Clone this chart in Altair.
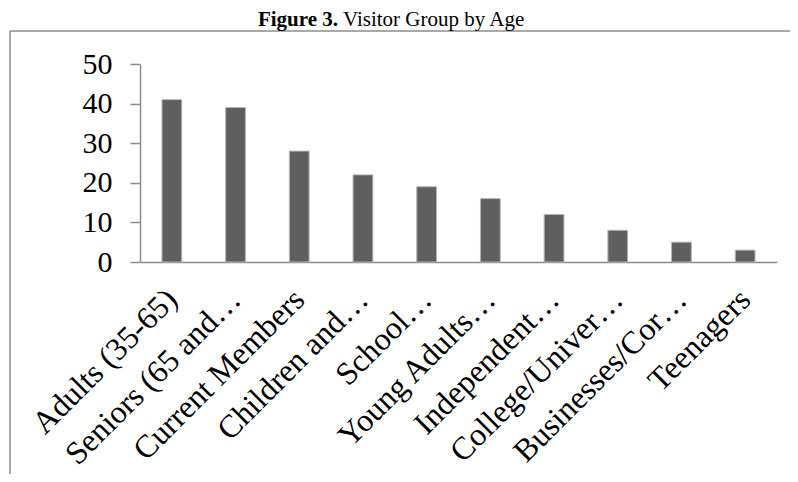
import altair as alt
import pandas as pd

categories = ["Adults (35-65)", "Seniors (65 and…", "Current Members", "Children and…",
              "School…", "Young Adults…", "Independent…", "College/Univer…",
              "Businesses/Cor…", "Teenagers"]
values = [41, 39, 28, 22, 19, 16, 12, 8, 5, 3]
y_ticks = [0, 10, 20, 30, 40, 50]
title_bold = "Figure 3."
title_rest = "Visitor Group by Age"

FONT = "Liberation Serif"
W, H = 637, 198

df = pd.DataFrame({"cat": categories, "val": values})
one = pd.DataFrame({"a": [0]})

bars = alt.Chart(df).mark_bar(color="#5f5f5f", stroke="#b4b4b4", strokeWidth=1).encode(
    x=alt.X("cat:N", sort=categories, title=None,
            scale=alt.Scale(paddingInner=0.69, paddingOuter=0.345),
            axis=alt.Axis(labelAngle=-45, labelAlign="right", labelBaseline="middle",
                          labelFont=FONT, labelFontSize=32, labelColor="black",
                          labelLimit=0, labelPadding=32, ticks=False,
                          domainColor="#8c8c8c", domainWidth=1.5, labelOverlap=False)),
    y=alt.Y("val:Q", title=None,
            scale=alt.Scale(domain=[0, 50], nice=False),
            axis=alt.Axis(values=y_ticks, grid=False, tickSize=10, tickColor="#8c8c8c",
                          tickWidth=1.5, domainColor="#8c8c8c", domainWidth=1.5,
                          labelFont=FONT, labelFontSize=30, labelColor="black",
                          labelPadding=18)),
)

frame_left = alt.Chart(one).mark_rule(color="#8c8c8c", strokeWidth=1.5).encode(
    x=alt.value(-130), y=alt.value(-33), y2=alt.value(420))
frame_top = alt.Chart(one).mark_rule(color="#8c8c8c", strokeWidth=1.5).encode(
    x=alt.value(-130), x2=alt.value(660), y=alt.value(-33))

t1 = alt.Chart(one).mark_text(font=FONT, fontSize=21, fontWeight="bold", align="right",
                              baseline="top", color="black").encode(
    x=alt.value(198), y=alt.value(-55), text=alt.value(title_bold))
t2 = alt.Chart(one).mark_text(font=FONT, fontSize=21, align="left",
                              baseline="top", color="black").encode(
    x=alt.value(203), y=alt.value(-55), text=alt.value(title_rest))

chart = alt.layer(frame_left, frame_top, bars, t1, t2).properties(
    width=W, height=H,
    autosize=alt.AutoSizeParams(type="none"),
    padding={"left": 132, "top": 56, "right": 13, "bottom": 212},
).configure_view(stroke=None)

chart.save("out.html", embed_options={"renderer": "svg", "actions": False})
